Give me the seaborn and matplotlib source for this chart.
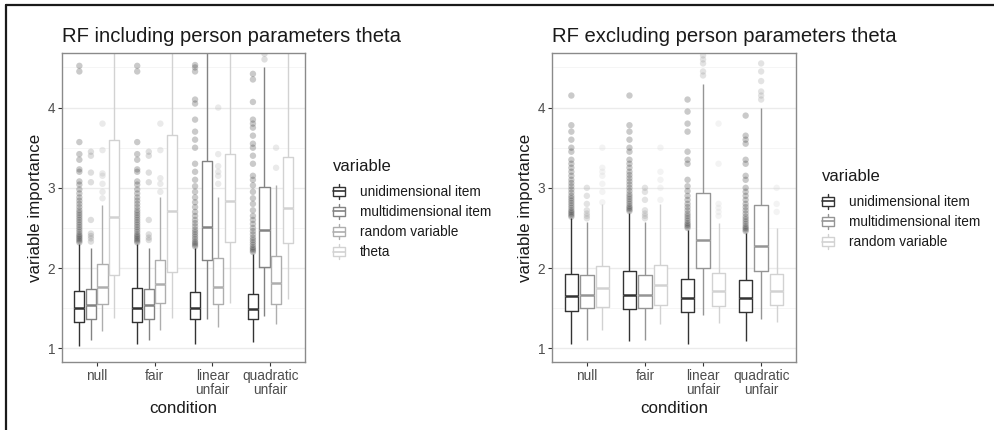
import pandas as pd
import numpy as np
import matplotlib.pyplot as plt
import seaborn as sns
from matplotlib.legend_handler import HandlerBase
from matplotlib.patches import Patch, Rectangle
from matplotlib.lines import Line2D
from matplotlib.ticker import MultipleLocator

# Data: (lower whisker, Q1, median, Q3, upper whisker) per condition
conditions = ['null', 'fair', 'linear unfair', 'quadratic unfair']
tick_labels = ['null', 'fair', 'linear\nunfair', 'quadratic\nunfair']

# --- RF including theta ---
incl_variables = ['unidimensional item', 'multidimensional item', 'random variable', 'theta']
incl_unidim = [(1.03, 1.33, 1.50, 1.72, 2.30), (1.05, 1.33, 1.50, 1.75, 2.30),
               (1.06, 1.37, 1.50, 1.70, 2.25), (1.08, 1.37, 1.49, 1.68, 2.18)]
incl_multidim = [(1.11, 1.37, 1.54, 1.74, 2.25), (1.11, 1.37, 1.54, 1.74, 2.25),
                 (1.37, 2.10, 2.51, 3.33, 4.90), (1.40, 2.01, 2.47, 3.01, 4.51)]
incl_random = [(1.22, 1.55, 1.77, 2.05, 2.79), (1.23, 1.56, 1.80, 2.10, 2.89),
               (1.26, 1.55, 1.76, 2.13, 2.88), (1.30, 1.55, 1.81, 2.15, 3.04)]
incl_theta = [(1.38, 1.92, 2.64, 3.60, 4.90), (1.38, 1.95, 2.71, 3.66, 4.90),
              (1.57, 2.32, 2.83, 3.42, 4.90), (1.61, 2.31, 2.75, 3.39, 4.90)]

incl_unidim_out = [
    [2.32, 2.34, 2.36, 2.38, 2.40, 2.42, 2.45, 2.48, 2.51, 2.54, 2.57, 2.60, 2.63, 2.66, 2.69,
     2.72, 2.76, 2.80, 2.84, 2.88, 2.93, 2.98, 3.04, 3.08, 3.20, 3.23, 3.35, 3.42, 3.57, 4.45, 4.52],
    [2.32, 2.34, 2.36, 2.38, 2.40, 2.42, 2.45, 2.48, 2.51, 2.54, 2.57, 2.60, 2.63, 2.66, 2.69,
     2.72, 2.76, 2.80, 2.84, 2.88, 2.93, 2.98, 3.04, 3.08, 3.20, 3.23, 3.35, 3.42, 3.57, 4.45, 4.52],
    [2.27, 2.29, 2.31, 2.33, 2.36, 2.39, 2.42, 2.45, 2.48, 2.52, 2.56, 2.60, 2.65, 2.70, 2.76,
     2.82, 2.88, 2.95, 3.02, 3.10, 3.20, 3.30, 3.50, 3.60, 3.70, 3.85, 4.05, 4.10, 4.45, 4.50, 4.53],
    [2.20, 2.22, 2.24, 2.26, 2.29, 2.32, 2.35, 2.38, 2.42, 2.46, 2.50, 2.55, 2.60, 2.65, 2.72,
     2.80, 2.87, 2.95, 3.03, 3.10, 3.15, 3.30, 3.40, 3.50, 3.55, 3.65, 3.75, 3.80, 3.85, 4.07, 4.35, 4.42],
]
incl_multidim_out = [[2.33, 2.37, 2.40, 2.43, 2.60, 3.07, 3.19, 3.40, 3.45],
                     [2.35, 2.38, 2.42, 2.60, 3.07, 3.19, 3.40, 3.45],
                     [],
                     [4.60, 4.67]]
incl_random_out = [[2.87, 2.95, 3.05, 3.15, 3.18, 3.47, 3.80],
                   [2.95, 3.05, 3.12, 3.47, 3.80],
                   [3.05, 3.15, 3.20, 3.27, 3.42, 4.00],
                   [3.25, 3.50]]
incl_theta_out = [[], [], [], []]

# --- RF excluding theta ---
excl_variables = ['unidimensional item', 'multidimensional item', 'random variable']
excl_unidim = [(1.05, 1.47, 1.65, 1.93, 2.62), (1.09, 1.49, 1.67, 1.97, 2.69),
               (1.05, 1.45, 1.63, 1.86, 2.48), (1.09, 1.45, 1.63, 1.85, 2.44)]
excl_multidim = [(1.11, 1.50, 1.67, 1.92, 2.58), (1.11, 1.50, 1.67, 1.92, 2.58),
                 (1.42, 2.00, 2.35, 2.93, 4.29), (1.36, 1.96, 2.27, 2.78, 4.00)]
excl_random = [(1.23, 1.51, 1.75, 2.03, 2.80), (1.30, 1.54, 1.79, 2.04, 2.80),
               (1.32, 1.53, 1.71, 1.94, 2.56), (1.33, 1.54, 1.72, 1.93, 2.50)]

excl_unidim_out = [
    [2.64, 2.66, 2.68, 2.70, 2.72, 2.75, 2.78, 2.81, 2.84, 2.87, 2.90, 2.94, 2.98, 3.02, 3.06,
     3.10, 3.15, 3.20, 3.25, 3.30, 3.35, 3.45, 3.50, 3.60, 3.70, 3.78, 4.15],
    [2.71, 2.73, 2.75, 2.77, 2.80, 2.83, 2.86, 2.89, 2.92, 2.96, 3.00, 3.04, 3.08, 3.12, 3.16,
     3.20, 3.25, 3.30, 3.35, 3.45, 3.50, 3.60, 3.70, 3.78, 4.15],
    [2.50, 2.52, 2.54, 2.56, 2.59, 2.62, 2.65, 2.68, 2.72, 2.76, 2.80, 2.85, 2.90, 2.96, 3.02,
     3.10, 3.30, 3.35, 3.45, 3.70, 3.80, 3.95, 4.10],
    [2.46, 2.48, 2.50, 2.52, 2.55, 2.58, 2.61, 2.64, 2.68, 2.72, 2.76, 2.80, 2.85, 2.90, 2.95,
     3.00, 3.10, 3.15, 3.30, 3.35, 3.55, 3.60, 3.65, 3.90],
]
excl_multidim_out = [[2.62, 2.65, 2.68, 2.72, 2.80, 2.90, 3.00],
                     [2.62, 2.65, 2.68, 2.72, 2.85, 2.95, 3.00],
                     [4.40, 4.45, 4.55, 4.60, 4.65],
                     [4.10, 4.15, 4.20, 4.33, 4.45, 4.55]]
excl_random_out = [[2.82, 2.95, 3.05, 3.15, 3.20, 3.25, 3.50],
                   [2.85, 3.00, 3.10, 3.20, 3.50],
                   [2.65, 2.70, 2.75, 2.80, 3.30, 3.80],
                   [2.70, 2.80, 3.00]]

incl_colors = ['#333333', '#838383', '#AEAEAE', '#D2D2D2']
excl_colors = ['#333333', '#959595', '#D2D2D2']


def box_frame(variables, stats):
    rows = []
    for var, per_cond in zip(variables, stats):
        for cond, five in zip(conditions, per_cond):
            for v in five:
                rows.append((cond, var, v))
    return pd.DataFrame(rows, columns=['condition', 'variable', 'value'])


def outlier_frame(variables, outs):
    rows = []
    for var, per_cond in zip(variables, outs):
        for cond, vals in zip(conditions, per_cond):
            for v in vals:
                rows.append((cond, var, v))
    return pd.DataFrame(rows, columns=['condition', 'variable', 'value'])


class BoxKey(HandlerBase):
    """ggplot-like boxplot legend key."""
    def create_artists(self, legend, orig_handle, xdescent, ydescent, width, height, fontsize, trans):
        c = orig_handle.get_edgecolor()
        x0, y0 = -xdescent, -ydescent
        xm = x0 + width / 2
        box = Rectangle((x0, y0 + 0.05 * height), width, 0.9 * height, facecolor='white',
                        edgecolor=c, lw=1, transform=trans)
        med = Line2D([x0, x0 + width], [y0 + 0.5 * height] * 2, color=c, lw=1.2, transform=trans)
        wlo = Line2D([xm, xm], [y0 - 0.25 * height, y0 + 0.05 * height], color=c, lw=1, transform=trans)
        whi = Line2D([xm, xm], [y0 + 0.95 * height, y0 + 1.25 * height], color=c, lw=1, transform=trans)
        return [wlo, whi, box, med]


sns.set_theme(style='white')
plt.rcParams['font.family'] = ['Liberation Sans', 'DejaVu Sans']

fig = plt.figure(figsize=(9.95, 4.3), dpi=100)
ax_l = fig.add_axes([62 / 995, 68 / 430, 243 / 995, 309 / 430])
ax_r = fig.add_axes([552 / 995, 68 / 430, 244 / 995, 309 / 430])

panels = [
    (ax_l, 'RF including person parameters theta', incl_variables, incl_colors,
     [incl_unidim, incl_multidim, incl_random, incl_theta],
     [incl_unidim_out, incl_multidim_out, incl_random_out, incl_theta_out], 333, 159),
    (ax_r, 'RF excluding person parameters theta', excl_variables, excl_colors,
     [excl_unidim, excl_multidim, excl_random],
     [excl_unidim_out, excl_multidim_out, excl_random_out], 822, 169),
]

for ax, title, variables, colors, stats, outs, leg_x, leg_y in panels:
    box_df = box_frame(variables, stats)
    out_df = outlier_frame(variables, outs)

    ax.set_axisbelow(True)
    ax.grid(True, which='major', color='#EBEBEB', lw=1)
    ax.yaxis.set_minor_locator(MultipleLocator(0.5))
    ax.grid(True, which='minor', axis='y', color='#F4F4F4', lw=0.6)

    common = dict(data=box_df, x='condition', y='value', hue='variable', order=conditions,
                  hue_order=variables, whis=(0, 100), width=0.8, gap=0.12, showfliers=False,
                  legend=False, ax=ax)
    # white fill first, then coloured outlines on top
    sns.boxplot(fill=True, palette=['white'] * len(variables), linecolor='white', linewidth=0.5,
                whiskerprops={'visible': False}, capprops={'visible': False}, **common)
    sns.stripplot(data=out_df, x='condition', y='value', hue='variable', order=conditions,
                  hue_order=variables, dodge=True, jitter=False, palette=colors, alpha=0.26,
                  size=4.6, linewidth=0, legend=False, ax=ax)
    sns.boxplot(fill=False, palette=colors, linewidth=1, capprops={'visible': False},
                medianprops={'linewidth': 1.8}, **common)

    ax.set_ylim(0.83, 4.68)
    ax.set_xlim(-0.6, 3.6)
    ax.set_yticks([1, 2, 3, 4])
    ax.set_xticks(range(len(conditions)))
    ax.set_xticklabels(tick_labels, linespacing=1.0)
    ax.tick_params(which='major', length=3, width=0.8, color='#333333', labelcolor='#4D4D4D',
                   labelsize=9.8, pad=2, bottom=True, left=True)
    ax.tick_params(which='minor', length=0)
    for s in ax.spines.values():
        s.set_color('#8A8A8A')
        s.set_linewidth(1)

    ax.set_xlabel('condition', fontsize=12.2, color='#1A1A1A', labelpad=3)
    ax.set_ylabel('variable importance', fontsize=12.2, color='#1A1A1A', labelpad=3)
    ax.set_title(title, loc='left', fontsize=14.6, color='#1A1A1A', pad=8)

    handles = [Patch(edgecolor=c, facecolor='white', label=v) for v, c in zip(variables, colors)]
    leg = fig.legend(handles=handles, title='variable', loc='upper left',
                     bbox_to_anchor=(leg_x / 995, 1 - leg_y / 430),
                     frameon=False, fontsize=9.8, title_fontsize=12, handler_map={Patch: BoxKey()},
                     handlelength=0.9, handleheight=0.75, handletextpad=1.1, labelspacing=0.45,
                     borderpad=0, borderaxespad=0, alignment='left')
    leg.get_title().set_color('#1A1A1A')
    leg._legend_box.sep = 8
    for t in leg.get_texts():
        t.set_color('#1A1A1A')

# outer frame lines seen in the reference (top and left edges)
fig.add_artist(Line2D([6 / 995, 1], [1 - 5 / 430] * 2, transform=fig.transFigure, color='#1A1A1A', lw=1.6))
fig.add_artist(Line2D([6 / 995] * 2, [0, 1 - 5 / 430], transform=fig.transFigure, color='#1A1A1A', lw=1.6))

fig.savefig('out.png', dpi=100)
